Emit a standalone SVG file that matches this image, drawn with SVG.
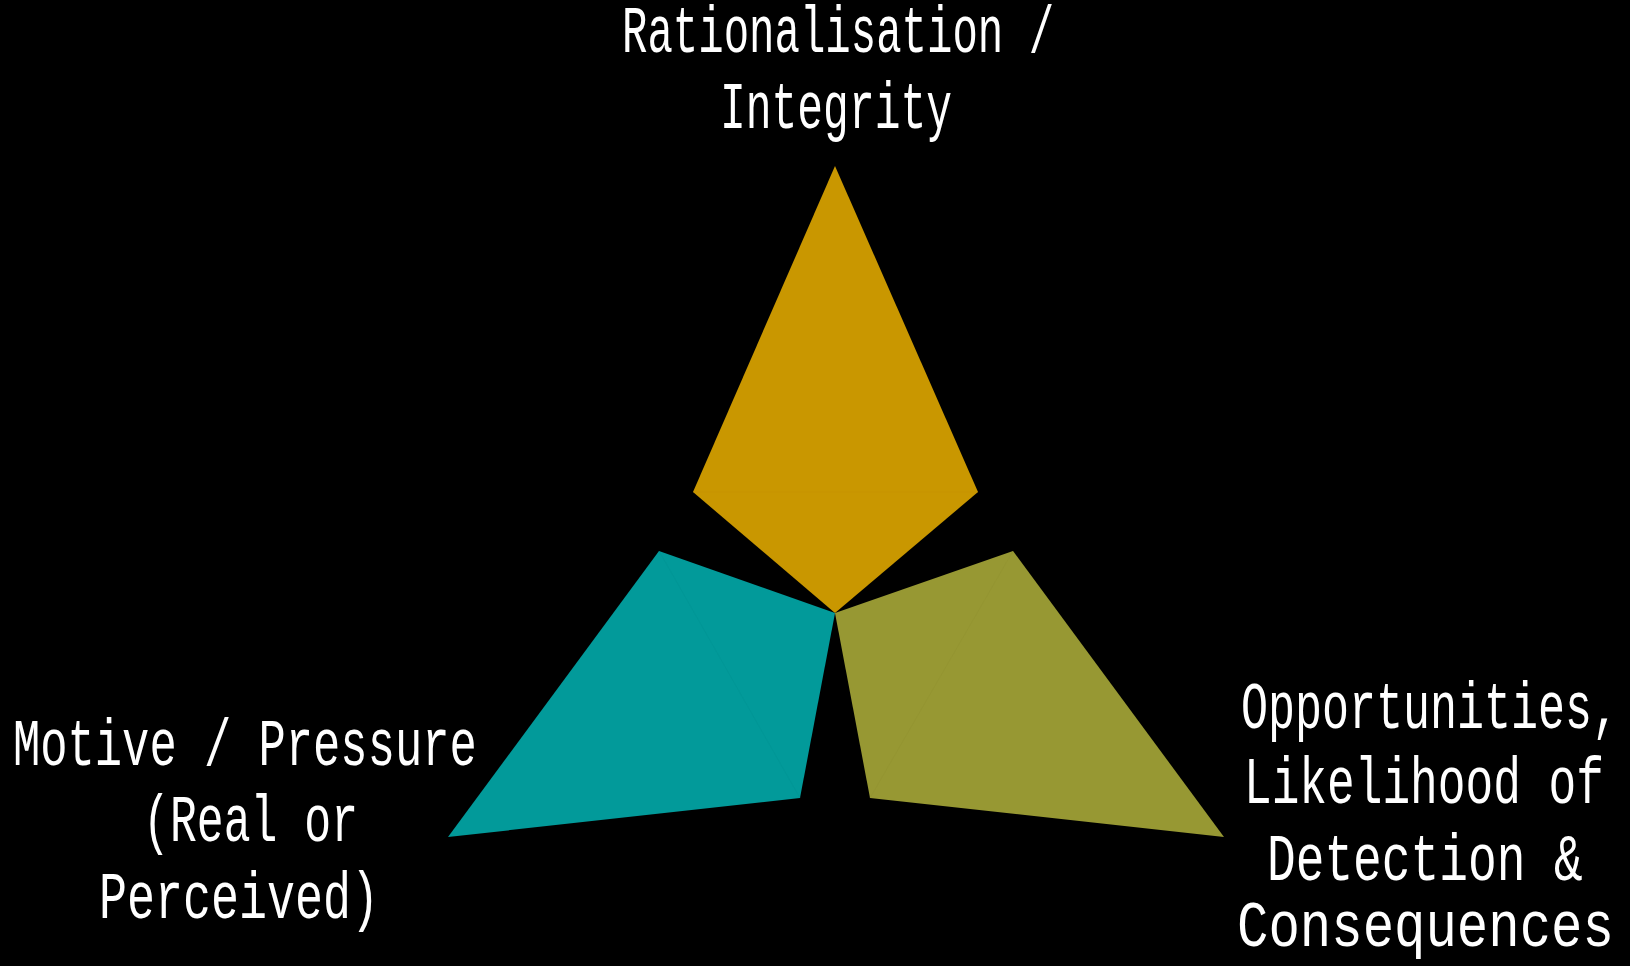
<svg xmlns="http://www.w3.org/2000/svg" width="1630" height="966" viewBox="0 0 1630 966">
<style>
.lbl{font-family:"Liberation Mono","Courier New",monospace;font-size:66px;fill:#ffffff}
.seam{stroke-width:1;fill:none;opacity:0.3}
</style>
<rect x="0" y="0" width="1630" height="966" fill="#000000"/>
<g id="rationalisation">
<polygon points="835,166 978,492 835,613 693,492" fill="#C99700"/>
<line class="seam" x1="693" y1="492" x2="978" y2="492" stroke="#BF9000"/>
<text class="lbl" transform="translate(622,52) scale(0.642,1)">Rationalisation /</text>
<text class="lbl" transform="translate(720,128) scale(0.651,1)">Integrity</text>
</g>
<g id="motive">
<polygon points="659,551 835,613 800,798 448,837" fill="#029A9A"/>
<line class="seam" x1="659" y1="551" x2="800" y2="798" stroke="#019090"/>
<text class="lbl" transform="translate(13,765) scale(0.689,1)">Motive / Pressure</text>
<text class="lbl" transform="translate(143,841) scale(0.679,1)">(Real or</text>
<text class="lbl" transform="translate(99,918) scale(0.707,1)">Perceived)</text>
</g>
<g id="opportunities">
<polygon points="1013,551 835,613 870,798 1224,837" fill="#979833"/>
<line class="seam" x1="1013" y1="551" x2="870" y2="798" stroke="#8E8F2E"/>
<text class="lbl" transform="translate(1241,728) scale(0.682,1)">Opportunities,</text>
<text class="lbl" transform="translate(1244,803) scale(0.699,1)">Likelihood of</text>
<text class="lbl" transform="translate(1267,880) scale(0.725,1)">Detection &amp;</text>
<text class="lbl" style="font-size:64px" transform="translate(1237,946) scale(0.818,1)">Consequences</text>
</g>
</svg>
